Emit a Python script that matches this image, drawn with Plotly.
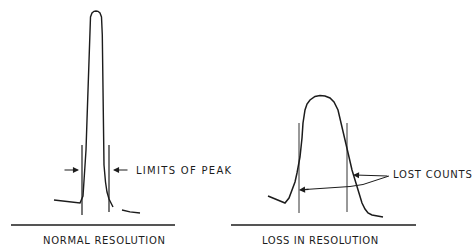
import plotly.graph_objects as go

# Left panel: normal resolution peak (x, y in drawing units, y downward)
norm_peak_x = [54, 68, 80, 83, 84.5, 86, 87, 88.5, 89.5, 90.5, 92, 94, 96, 98, 100, 101.5, 102.3, 102.8, 103.2, 104, 105.5, 107, 109, 111, 113]
norm_peak_y = [200, 201.5, 203, 196, 175, 150, 120, 70, 35, 17, 13, 11.3, 11, 11.3, 13, 17, 35, 80, 137, 165, 182, 192, 199, 204, 207]
norm_tail_x = [122, 130, 140]
norm_tail_y = [210, 211.8, 213]
norm_limits_x = [82, 109]
norm_limits_top = [145, 145]
norm_limits_bot = [215, 212]

# Right panel: loss in resolution peak
loss_peak_x = [268, 277, 285, 289, 292, 295, 297, 300, 302, 303, 305, 307, 310, 315, 320, 325, 330, 334, 338, 341, 345, 349, 352, 357, 362, 365, 368, 372, 377, 383]
loss_peak_y = [196, 199.5, 203, 198, 190, 182, 173, 157, 138, 123, 110, 104, 100, 96.5, 95.5, 96, 98, 102, 110, 122, 140, 157, 170, 187, 203, 209, 213, 215, 216.2, 217]
loss_limits_x = [299, 347]
loss_limits_top = [123, 123]
loss_limits_bot = [213, 212]
lost_curve_x = [389, 375, 363, 350, 335, 317, 305]
lost_curve_y = [176, 181, 184.5, 186.5, 187.5, 188.5, 189.5]

baselines_x = [[11, 175], [231, 416]]
baseline_y = 225

labels = {
    "limits": "LIMITS OF PEAK",
    "lost": "LOST COUNTS",
    "normal": "NORMAL RESOLUTION",
    "loss": "LOSS IN RESOLUTION",
}

INK = "#1c1c1c"
fig = go.Figure()

def line(x, y, w=1.3, color=INK):
    fig.add_trace(go.Scatter(x=x, y=y, mode="lines", hoverinfo="skip",
                             line=dict(color=color, width=w), showlegend=False))

line(norm_peak_x, norm_peak_y, 1.4)
line(norm_tail_x, norm_tail_y, 1.3)
for x, t, b in zip(norm_limits_x, norm_limits_top, norm_limits_bot):
    line([x, x], [t, b], 1.2)
line(loss_peak_x, loss_peak_y, 1.5)
for x, t, b in zip(loss_limits_x, loss_limits_top, loss_limits_bot):
    line([x, x], [t, b], 0.9)
line(lost_curve_x, lost_curve_y, 1.0)
for bx in baselines_x:
    line(bx, [baseline_y, baseline_y], 1.4)

def arrow(x, y, ax, ay):
    fig.add_annotation(x=x, y=y, ax=ax, ay=ay, xref="x", yref="y", axref="x", ayref="y",
                       text="", showarrow=True, arrowhead=2, arrowsize=1.1,
                       arrowwidth=1.1, arrowcolor=INK)

arrow(79, 170, 63, 170)
arrow(113, 170, 129, 170)
arrow(353, 175, 389, 176)
arrow(299, 190, 310, 189.3)

def label(x, y, txt, anchor, spacing):
    fig.add_annotation(x=x, y=y, xref="x", yref="y", showarrow=False, xanchor=anchor,
                       yanchor="middle",
                       text=f'<span style="letter-spacing:{spacing}px">{txt}</span>',
                       font=dict(family="DejaVu Sans", size=10, color=INK))

label(134, 170.5, labels["limits"], "left", 1.3)
label(391, 174.5, labels["lost"], "left", 0.8)
label(104, 240, labels["normal"], "center", 0.7)
label(320, 240, labels["loss"], "center", 0.55)

fig.update_layout(width=474, height=245, margin=dict(l=0, r=0, t=0, b=0),
                  paper_bgcolor="white", plot_bgcolor="white",
                  xaxis=dict(range=[0, 474], visible=False, fixedrange=True),
                  yaxis=dict(range=[245, 0], visible=False, fixedrange=True))
fig.write_html("out.html", config={"displayModeBar": False},
               post_script="document.body.style.margin='0';document.body.style.overflow='hidden';")
